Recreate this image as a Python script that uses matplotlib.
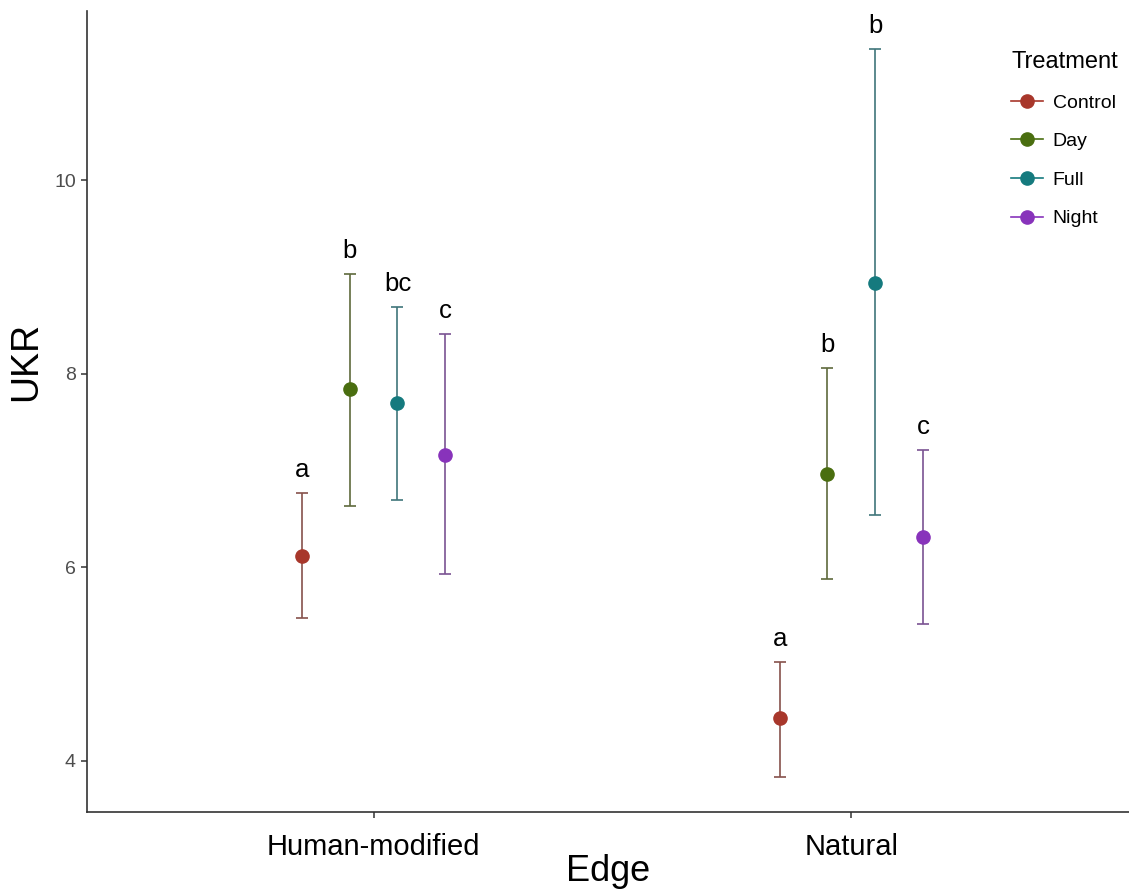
import matplotlib
matplotlib.use("Agg")
import matplotlib.pyplot as plt
from matplotlib.lines import Line2D
import numpy as np

plt.rcParams['font.family'] = ['Liberation Sans', 'DejaVu Sans']

edges = ["Human-modified", "Natural"]
treatments = ["Control", "Day", "Full", "Night"]

# mean UKR and interval bounds per treatment, one value per edge type
ukr_mean = {
    "Control": [6.12, 4.44],
    "Day":     [7.84, 6.96],
    "Full":    [7.70, 8.94],
    "Night":   [7.16, 6.31],
}
ukr_low = {
    "Control": [5.48, 3.83],
    "Day":     [6.63, 5.88],
    "Full":    [6.70, 6.54],
    "Night":   [5.93, 5.41],
}
ukr_high = {
    "Control": [6.77, 5.02],
    "Day":     [9.03, 8.06],
    "Full":    [8.69, 11.36],
    "Night":   [8.41, 7.21],
}
letters = {
    "Control": ["a", "a"],
    "Day":     ["b", "b"],
    "Full":    ["bc", "b"],
    "Night":   ["c", "c"],
}

point_colors = {"Control": "#A8372B", "Day": "#4A6E10", "Full": "#157A7E", "Night": "#8833BB"}
bar_colors = {"Control": "#86524C", "Day": "#5F6A3C", "Full": "#40757A", "Night": "#7A5392"}

fig = plt.figure(figsize=(11.29, 8.92), dpi=100)
ax = fig.add_axes([87 / 1129, 1 - 812 / 892, 1 - 87 / 1129, (812 - 11) / 892])

x = np.arange(1, len(edges) + 1)
dodge = 0.4
n = len(treatments)
for i, t in enumerate(treatments):
    off = -dodge / 2 + dodge / n * (i + 0.5)
    xs = x + off
    m = np.array(ukr_mean[t])
    lo = np.array(ukr_low[t])
    hi = np.array(ukr_high[t])
    ax.errorbar(xs, m, yerr=[m - lo, hi - m], fmt="none", ecolor=bar_colors[t],
                elinewidth=1.2, capsize=4, capthick=1.2, zorder=2)
    ax.plot(xs, m, "o", color=point_colors[t], markersize=9.5, zorder=3, linestyle="none")
    for xi, h, lab in zip(xs, hi, letters[t]):
        ax.annotate(lab, (xi, h), xytext=(0, 8), textcoords="offset points",
                    ha="center", va="bottom", fontsize=18.5, color="black")

ax.set_xlim(0.4, 2 + (1129 - 851) / 478)
ax.set_ylim(3.47, 11.75)
ax.set_xticks(x)
ax.set_xticklabels(edges, fontsize=21, color="black")
ax.set_yticks([4, 6, 8, 10])
ax.tick_params(axis="y", labelsize=14, labelcolor="#4D4D4D", color="#333333",
               length=4, width=1.1, pad=4)
ax.tick_params(axis="x", color="#333333", length=4, width=1.1, pad=11)

for s in ["top", "right"]:
    ax.spines[s].set_visible(False)
for s in ["left", "bottom"]:
    ax.spines[s].set_color("#333333")
    ax.spines[s].set_linewidth(1.2)

ax.set_xlabel("Edge", fontsize=26, labelpad=-5)
ax.set_ylabel("UKR", fontsize=27)
ax.yaxis.set_label_coords(-0.041, (812 - 361) / 801)

handles = [Line2D([0], [0], color=point_colors[t], marker="o", markersize=9.5,
                  linewidth=1.2) for t in treatments]
leg = ax.legend(handles, treatments, title="Treatment", frameon=False,
                loc="upper left", bbox_to_anchor=(1011 / 1129, 1 - 51 / 892),
                bbox_transform=fig.transFigure, fontsize=14, title_fontsize=17,
                handlelength=1.65, labelspacing=1.08, handletextpad=0.5,
                borderpad=0, borderaxespad=0)
leg._legend_box.align = "left"

fig.savefig("out.png", dpi=100)
